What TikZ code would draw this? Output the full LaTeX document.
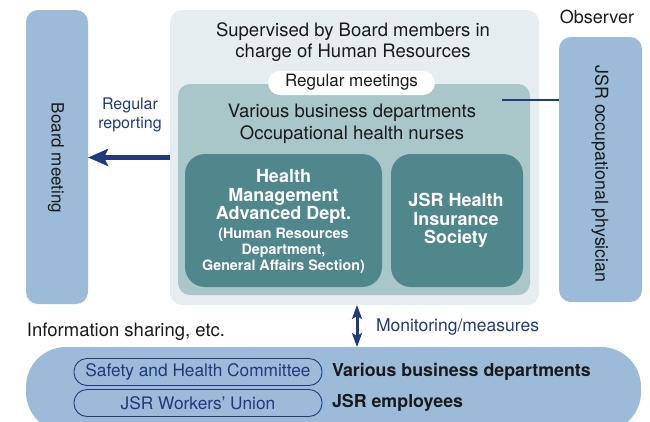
\documentclass[tikz,border=0pt]{standalone}
\usepackage{fontspec}
\setmainfont{TeX Gyre Heros}
\usetikzlibrary{arrows.meta}

\definecolor{paleblue}{HTML}{9CBBD8}
\definecolor{mist}{HTML}{E6EDF1}
\definecolor{sage}{HTML}{A9C6C8}
\definecolor{deepteal}{HTML}{4F878C}
\definecolor{navy}{HTML}{1F3A7E}
\definecolor{ink}{HTML}{1A1A1A}

\newcommand{\fsz}[2]{\fontsize{#1}{#2}\selectfont}

\begin{document}
\begin{tikzpicture}[x=1pt,y=-1pt,
  panel/.style={inner sep=0pt,outer sep=0pt,draw=none,rounded corners=#1},
  panel/.default=12pt,
  plain/.style={inner sep=0pt,outer sep=0pt,align=center,text=ink,font=\fsz{18.5}{21.5}},
  whitebold/.style={inner sep=0pt,outer sep=0pt,align=center,text=white,font=\bfseries\fsz{18}{18.5}},
  navytext/.style={inner sep=0pt,outer sep=0pt,align=center,text=navy,font=\fsz{16.5}{19}},
  tag/.style={inner sep=0pt,outer sep=0pt,draw=navy,line width=0.9pt,rounded corners=13pt,
              minimum width=248pt,minimum height=27pt,text=navy,font=\fsz{17.3}{20}},
  bigarrow/.style={draw=navy,line width=4.5pt,-{Stealth[length=20pt,width=17pt,inset=4pt]}},
  twoway/.style={draw=navy,line width=3pt,{Stealth[length=14pt,width=10pt,inset=3pt]}-{Stealth[length=14pt,width=10pt,inset=3pt]}},
  thinline/.style={draw=navy,line width=1.6pt}
]
\clip (0,0) rectangle (650,421);
\fill[white] (0,0) rectangle (650,421);

% side panels
\node[panel,fill=paleblue,minimum width=62pt,minimum height=294pt] (board) at (57,157) {};
\node[plain,rotate=-90,font=\fsz{17}{20}] (boardtxt) at (56,158) {Board meeting};

\node[panel,fill=paleblue,minimum width=83pt,minimum height=265pt] (phys) at (600.5,169.5) {};
\node[plain,rotate=-90,font=\fsz{17.8}{20}] (physfull) at (600,174) {JSR occupational physician};
\node[plain,font=\fsz{18}{20}] (observer) at (597,17) {Observer};

% central nested panels
\node[panel,fill=mist,minimum width=369pt,minimum height=295pt] (outer) at (354.5,157.5) {};
\node[plain] (superv) at (353,42) {Supervised by Board members in\\charge of Human Resources};

\node[panel,fill=sage,minimum width=352pt,minimum height=211pt] (mid) at (354,189.5) {};
\node[panel=12pt,fill=white,minimum width=167pt,minimum height=24pt] (meet) at (351.5,83) {};
\node[plain,font=\fsz{17}{20}] (meettxt) at (351.5,82) {Regular meetings};
\node[plain] (midtxt) at (352,124) {Various business departments\\Occupational health nurses};

\node[panel=20pt,fill=deepteal,minimum width=197pt,minimum height=133pt] (hmad) at (283.5,220.5) {};
\node[whitebold] (hmadtitle) at (283.5,196.5) {Health\\Management\\Advanced Dept.};
\node[whitebold,font=\bfseries\fsz{14.3}{16}] (hmadsub) at (283.5,251) {(Human Resources\\Department,\\General Affairs Section)};

\node[panel=20pt,fill=deepteal,minimum width=132pt,minimum height=133pt] (kenpo) at (457,220.5) {};
\node[whitebold] (kenpotxt) at (456,220.5) {JSR Health\\Insurance\\Society};

% observer link
\coordinate (tick) at (502,100);
\draw[thinline] (tick) -- (tick -| phys.west);

% regular reporting
\draw[bigarrow] (outer.west) -- (outer.west -| board.east);
\node[navytext,font=\fsz{16}{19}] (reptxt) at (130,115) {Regular\\reporting};

% workplace band
\node[panel=40pt,fill=paleblue,minimum width=615pt,minimum height=85pt] (band) at (333.5,389.5) {};
\node[plain,anchor=west] (share) at (27,332) {Information sharing, etc.};

\draw[twoway] ([xshift=2.5pt]outer.south) -- ([xshift=2.5pt]outer.south |- band.north);
\node[navytext,anchor=west,font=\fsz{17.5}{20}] (montxt) at (376,327) {Monitoring/measures};

\node[tag] (committee) at (198,372) {Safety and Health Committee};
\node[tag] (union) at (198,403) {JSR Workers’ Union};
\node[plain,anchor=west,font=\bfseries\fsz{17.8}{20}] (depts) at (332,372) {Various business departments};
\node[plain,anchor=west,font=\bfseries\fsz{17.8}{20}] (staff) at (332,403) {JSR employees};
\end{tikzpicture}
\end{document}
